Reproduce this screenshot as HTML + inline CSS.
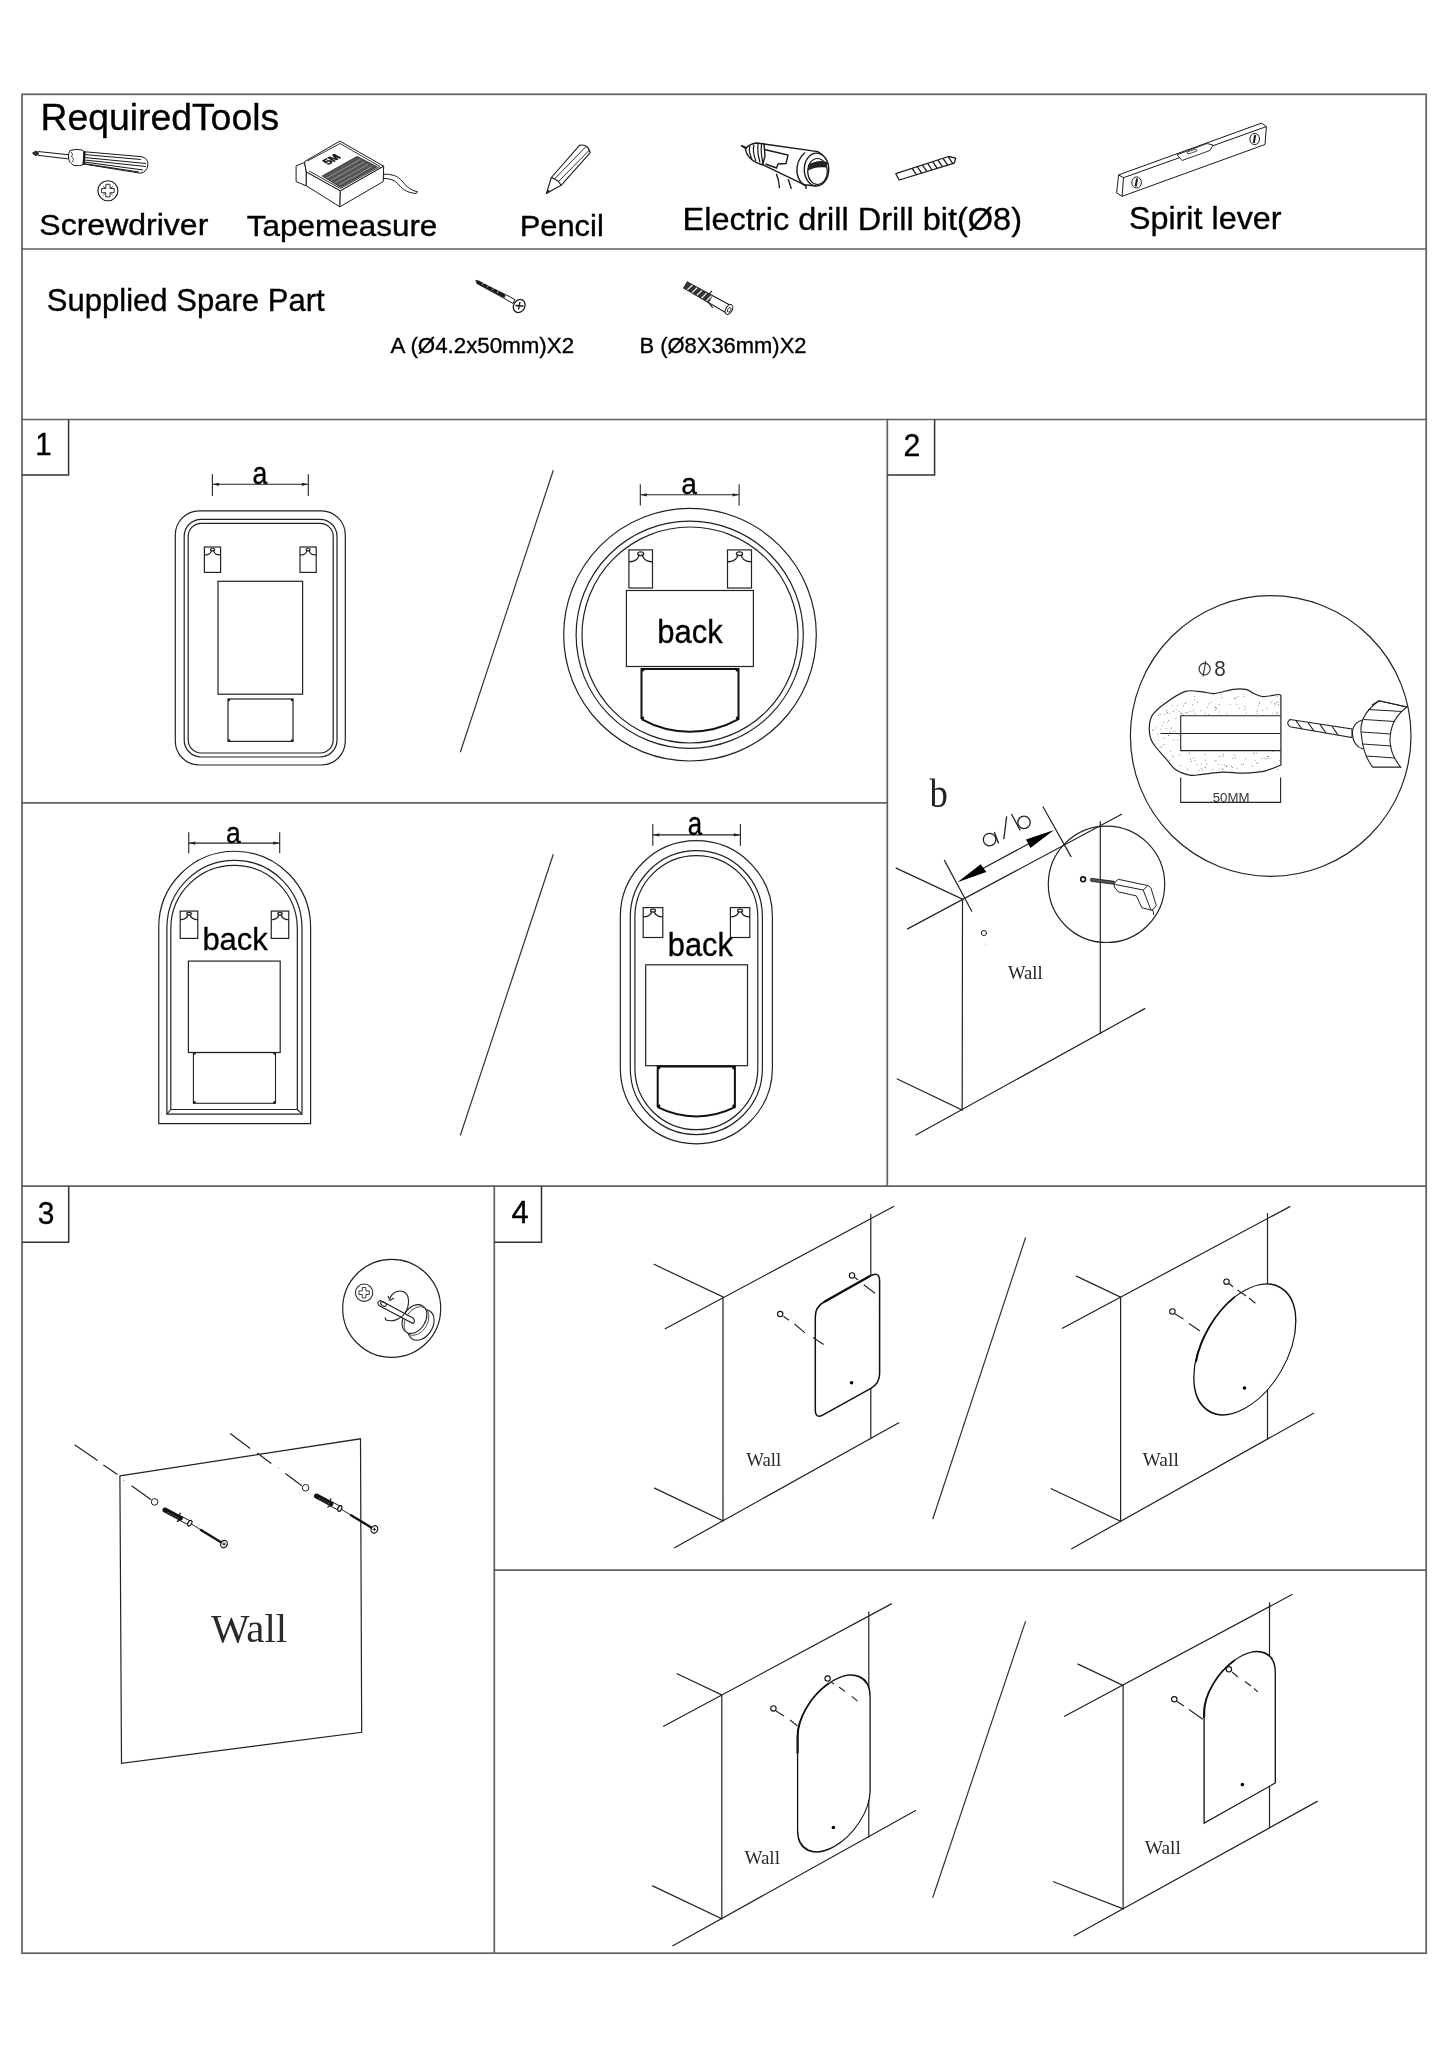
<!DOCTYPE html><html><head><meta charset="utf-8"><style>html,body{margin:0;padding:0;background:#fff;width:1448px;height:2048px;overflow:hidden}svg{display:block;will-change:transform}</style></head><body>
<svg width="1448" height="2048" viewBox="0 0 1448 2048">
<g stroke="#606060" stroke-width="1.7" fill="none" stroke-linecap="square">
<rect x="22" y="94.3" width="1404.2" height="1858.9"/>
<line x1="22" y1="249" x2="1426.2" y2="249" stroke="#606060" stroke-width="1.7" />
<line x1="22" y1="419.5" x2="1426.2" y2="419.5" stroke="#606060" stroke-width="1.7" />
<line x1="22" y1="802.8" x2="887.3" y2="802.8" stroke="#606060" stroke-width="1.7" />
<line x1="22" y1="1186.2" x2="1426.2" y2="1186.2" stroke="#606060" stroke-width="1.7" />
<line x1="494.3" y1="1570.1" x2="1426.2" y2="1570.1" stroke="#606060" stroke-width="1.7" />
<line x1="887.3" y1="419.5" x2="887.3" y2="1186.2" stroke="#606060" stroke-width="1.7" />
<line x1="494.3" y1="1186.2" x2="494.3" y2="1953.2" stroke="#606060" stroke-width="1.7" />
</g>
<g stroke="#333" stroke-width="1.5" fill="none">
<polyline points="22,475.1 68.6,475.1 68.6,419.5"/>
<polyline points="887.3,474.9 934.6,474.9 934.6,419.5"/>
<polyline points="22,1242.2 68.7,1242.2 68.7,1186.2"/>
<polyline points="494.3,1242.2 541.5,1242.2 541.5,1186.2"/>
</g>
<text x="40.44" y="129.5" font-family="Liberation Sans" font-size="37.79" fill="#000" textLength="238.69" lengthAdjust="spacingAndGlyphs" stroke="#000" stroke-width="0.35">RequiredTools</text>
<text x="39.33" y="234.6" font-family="Liberation Sans" font-size="30.09" fill="#000" textLength="169.01" lengthAdjust="spacingAndGlyphs" stroke="#000" stroke-width="0.35">Screwdriver</text>
<text x="246.81" y="236.4" font-family="Liberation Sans" font-size="29.36" fill="#000" textLength="190.58" lengthAdjust="spacingAndGlyphs" stroke="#000" stroke-width="0.35">Tapemeasure</text>
<text x="519.67" y="236" font-family="Liberation Sans" font-size="29.65" fill="#000" textLength="84.12" lengthAdjust="spacingAndGlyphs" stroke="#000" stroke-width="0.35">Pencil</text>
<text x="682.64" y="230.1" font-family="Liberation Sans" font-size="31.54" fill="#000" textLength="339.39" lengthAdjust="spacingAndGlyphs" stroke="#000" stroke-width="0.35">Electric drill Drill bit(Ø8)</text>
<text x="1128.91" y="228.8" font-family="Liberation Sans" font-size="32.12" fill="#000" textLength="152.62" lengthAdjust="spacingAndGlyphs" stroke="#000" stroke-width="0.35">Spirit lever</text>
<text x="46.77" y="311.4" font-family="Liberation Sans" font-size="31.1" fill="#000" textLength="277.85" lengthAdjust="spacingAndGlyphs" stroke="#000" stroke-width="0.35">Supplied Spare Part</text>
<text x="390.56" y="352.7" font-family="Liberation Sans" font-size="22.09" fill="#000" textLength="183.56" lengthAdjust="spacingAndGlyphs" stroke="#000" stroke-width="0.35">A (Ø4.2x50mm)X2</text>
<text x="639.5" y="352.7" font-family="Liberation Sans" font-size="22.09" fill="#000" textLength="167.0" lengthAdjust="spacingAndGlyphs" stroke="#000" stroke-width="0.35">B (Ø8X36mm)X2</text>
<text x="35.36" y="455.2" font-family="Liberation Sans" font-size="32.27" fill="#000" textLength="16.39" lengthAdjust="spacingAndGlyphs" stroke="#000" stroke-width="0.35">1</text>
<text x="903.39" y="456.3" font-family="Liberation Sans" font-size="31.69" fill="#000" textLength="16.83" lengthAdjust="spacingAndGlyphs" stroke="#000" stroke-width="0.35">2</text>
<text x="37.86" y="1223.9" font-family="Liberation Sans" font-size="32.12" fill="#000" textLength="16.66" lengthAdjust="spacingAndGlyphs" stroke="#000" stroke-width="0.35">3</text>
<text x="511.39" y="1222.8" font-family="Liberation Sans" font-size="31.54" fill="#000" textLength="17.21" lengthAdjust="spacingAndGlyphs" stroke="#000" stroke-width="0.35">4</text>
<g stroke="#222" stroke-width="1.1" fill="none">
<line x1="212.4" y1="474.2" x2="212.4" y2="496"/><line x1="308.3" y1="474.2" x2="308.3" y2="496"/><line x1="212.4" y1="484.3" x2="308.3" y2="484.3"/>
</g>
<path d="M212.9,484.3 l6,-1.6 v3.2 z M307.8,484.3 l-6,-1.6 v3.2 z" fill="#222"/>
<text x="252.38" y="483.8" font-family="Liberation Sans" font-size="32.01" fill="#000" textLength="14.82" lengthAdjust="spacingAndGlyphs" stroke="#000" stroke-width="0.35">a</text>
<rect x="175.3" y="510.9" width="170" height="254.1" rx="24" stroke="#222" stroke-width="1.2" fill="none"/>
<rect x="184.2" y="519.3" width="152.8" height="237.7" rx="17" stroke="#222" stroke-width="1.2" fill="none"/>
<rect x="188.2" y="523.3" width="145" height="229.7" rx="13" stroke="#222" stroke-width="1.2" fill="none"/>
<rect x="204.4" y="547" width="16.2" height="25.4" stroke="#222" stroke-width="1.2" fill="#fff"/>
<path d="M204.4,554.874 C209.26,555.374 211.204,552.08 211.528,550.048 M220.6,554.874 C215.74,555.374 213.796,552.08 213.472,550.048" stroke="#222" stroke-width="1.32" fill="none"/>
<ellipse cx="212.5" cy="549.54" rx="2.106" ry="1.27" stroke="#222" stroke-width="1.2" fill="none"/>
<rect x="300" y="547" width="16.2" height="25.4" stroke="#222" stroke-width="1.2" fill="#fff"/>
<path d="M300,554.874 C304.86,555.374 306.80400000000003,552.08 307.12800000000004,550.048 M316.2,554.874 C311.34,555.374 309.396,552.08 309.072,550.048" stroke="#222" stroke-width="1.32" fill="none"/>
<ellipse cx="308.1" cy="549.54" rx="2.106" ry="1.27" stroke="#222" stroke-width="1.2" fill="none"/>
<rect x="218" y="581.3" width="84.6" height="112.9" stroke="#222" stroke-width="1.2" fill="none"/>
<rect x="228" y="699" width="65" height="42.4" stroke="#222" stroke-width="1.2" fill="none"/>
<circle cx="229" cy="700" r="1.2" fill="#222"/>
<circle cx="292" cy="700" r="1.2" fill="#222"/>
<circle cx="229" cy="740.4" r="1.2" fill="#222"/>
<circle cx="292" cy="740.4" r="1.2" fill="#222"/>
<line x1="553.3" y1="470.3" x2="460.3" y2="752.3" stroke="#333" stroke-width="1.2" />
<g stroke="#222" stroke-width="1.1" fill="none">
<line x1="640.3" y1="484.2" x2="640.3" y2="505.4"/><line x1="739.1" y1="484.2" x2="739.1" y2="505.4"/><line x1="640.3" y1="494.8" x2="739.1" y2="494.8"/>
</g>
<path d="M640.8,494.8 l6,-1.6 v3.2 z M738.6,494.8 l-6,-1.6 v3.2 z" fill="#222"/>
<text x="681.32" y="494.4" font-family="Liberation Sans" font-size="30.3" fill="#000" textLength="15.69" lengthAdjust="spacingAndGlyphs" stroke="#000" stroke-width="0.35">a</text>
<circle cx="690" cy="634.7" r="126.3" stroke="#222" stroke-width="1.2" fill="none"/>
<circle cx="689.7" cy="634.8" r="113.6" stroke="#222" stroke-width="1.2" fill="none"/>
<circle cx="690" cy="635" r="108" stroke="#222" stroke-width="1.2" fill="none"/>
<rect x="628.9" y="549.9" width="23.6" height="38.1" stroke="#222" stroke-width="1.2" fill="#fff"/>
<path d="M628.9,561.711 C635.98,562.211 638.8119999999999,557.52 639.2839999999999,554.472 M652.5,561.711 C645.42,562.211 642.588,557.52 642.116,554.472" stroke="#222" stroke-width="1.32" fill="none"/>
<ellipse cx="640.6999999999999" cy="553.7099999999999" rx="3.0680000000000005" ry="1.9050000000000002" stroke="#222" stroke-width="1.2" fill="none"/>
<rect x="727.5" y="549.9" width="24" height="38.1" stroke="#222" stroke-width="1.2" fill="#fff"/>
<path d="M727.5,561.711 C734.7,562.211 737.58,557.52 738.06,554.472 M751.5,561.711 C744.3,562.211 741.42,557.52 740.94,554.472" stroke="#222" stroke-width="1.32" fill="none"/>
<ellipse cx="739.5" cy="553.7099999999999" rx="3.12" ry="1.9050000000000002" stroke="#222" stroke-width="1.2" fill="none"/>
<rect x="626.4" y="590.5" width="127" height="76" stroke="#222" stroke-width="1.2" fill="none"/>
<text x="657.29" y="642.7" font-family="Liberation Sans" font-size="33.24" fill="#000" textLength="65.39" lengthAdjust="spacingAndGlyphs" stroke="#000" stroke-width="0.35">back</text>
<path d="M641.5,719.1 V668.9 H738.5 V719.1 A99.6,99.6 0 0 1 641.5,719.1" stroke="#111" stroke-width="2" fill="none"/>
<g stroke="#222" stroke-width="1.1" fill="none">
<line x1="188.75" y1="832.2" x2="188.75" y2="853.3"/><line x1="279.7" y1="832.2" x2="279.7" y2="853.3"/><line x1="188.75" y1="843.1" x2="279.7" y2="843.1"/>
</g>
<path d="M189.25,843.1 l6,-1.6 v3.2 z M279.2,843.1 l-6,-1.6 v3.2 z" fill="#222"/>
<text x="225.89" y="842.8" font-family="Liberation Sans" font-size="30.3" fill="#000" textLength="14.72" lengthAdjust="spacingAndGlyphs" stroke="#000" stroke-width="0.35">a</text>
<path d="M158.75,1123.6 V927.175 A75.92500000000001,75.92500000000001 0 0 1 310.6,927.175 V1123.6 Z" stroke="#222" stroke-width="1.2" fill="none"/>
<path d="M166.9,1114.2 V927.8499999999999 A67.55,67.55 0 0 1 302,927.8499999999999 V1114.2 Z" stroke="#222" stroke-width="1.2" fill="none"/>
<path d="M170.8,1109.5 V928.55 A63.25,63.25 0 0 1 297.3,928.55 V1109.5 Z" stroke="#222" stroke-width="1.2" fill="none"/>
<line x1="166.9" y1="1114.2" x2="170.8" y2="1109.5" stroke="#222" stroke-width="1.1" />
<line x1="302" y1="1114.2" x2="297.3" y2="1109.5" stroke="#222" stroke-width="1.1" />
<rect x="180.2" y="911.1" width="17.6" height="27.3" stroke="#222" stroke-width="1.2" fill="#fff"/>
<path d="M180.2,919.563 C185.48,920.063 187.592,916.5600000000001 187.944,914.376 M197.79999999999998,919.563 C192.51999999999998,920.063 190.408,916.5600000000001 190.056,914.376" stroke="#222" stroke-width="1.32" fill="none"/>
<ellipse cx="189.0" cy="913.83" rx="2.2880000000000003" ry="1.3650000000000002" stroke="#222" stroke-width="1.2" fill="none"/>
<rect x="271.25" y="911.1" width="17.5" height="27.3" stroke="#222" stroke-width="1.2" fill="#fff"/>
<path d="M271.25,919.563 C276.5,920.063 278.6,916.5600000000001 278.95,914.376 M288.75,919.563 C283.5,920.063 281.4,916.5600000000001 281.05,914.376" stroke="#222" stroke-width="1.32" fill="none"/>
<ellipse cx="280.0" cy="913.83" rx="2.275" ry="1.3650000000000002" stroke="#222" stroke-width="1.2" fill="none"/>
<text x="202.39" y="949.7" font-family="Liberation Sans" font-size="31.72" fill="#000" textLength="65.29" lengthAdjust="spacingAndGlyphs" stroke="#000" stroke-width="0.35">back</text>
<rect x="188.4" y="961.1" width="91.8" height="91.4" stroke="#222" stroke-width="1.2" fill="none"/>
<rect x="193.4" y="1052.5" width="82.1" height="50.8" stroke="#222" stroke-width="1.1" fill="none"/>
<circle cx="194.5" cy="1053.5" r="1.2" fill="#222"/>
<circle cx="274.5" cy="1053.5" r="1.2" fill="#222"/>
<circle cx="194.5" cy="1102.3" r="1.2" fill="#222"/>
<circle cx="274.5" cy="1102.3" r="1.2" fill="#222"/>
<line x1="553.3" y1="854.2" x2="460.3" y2="1135.5" stroke="#333" stroke-width="1.2" />
<g stroke="#222" stroke-width="1.1" fill="none">
<line x1="652.8" y1="824.1" x2="652.8" y2="845.7"/><line x1="740.4" y1="824.1" x2="740.4" y2="845.7"/><line x1="652.8" y1="834.9" x2="740.4" y2="834.9"/>
</g>
<path d="M653.3,834.9 l6,-1.6 v3.2 z M739.9,834.9 l-6,-1.6 v3.2 z" fill="#222"/>
<text x="687.81" y="834.9" font-family="Liberation Sans" font-size="32.95" fill="#000" textLength="14.39" lengthAdjust="spacingAndGlyphs" stroke="#000" stroke-width="0.35">a</text>
<path d="M620.3,916.75 A76.05000000000001,76.05000000000001 0 0 1 772.4,916.75 V1067.75 A76.05000000000001,76.05000000000001 0 0 1 620.3,1067.75 Z" stroke="#222" stroke-width="1.2" fill="none"/>
<path d="M630.3,916.75 A66.05000000000001,66.05000000000001 0 0 1 762.4,916.75 V1068.55 A66.05000000000001,66.05000000000001 0 0 1 630.3,1068.55 Z" stroke="#222" stroke-width="1.2" fill="none"/>
<path d="M634.9,917.1500000000001 A61.44999999999999,61.44999999999999 0 0 1 757.8,917.1500000000001 V1068.25 A61.44999999999999,61.44999999999999 0 0 1 634.9,1068.25 Z" stroke="#222" stroke-width="1.2" fill="none"/>
<rect x="643.2" y="907.6" width="19.6" height="29.9" stroke="#222" stroke-width="1.2" fill="#fff"/>
<path d="M643.2,916.869 C649.08,917.369 651.432,913.58 651.824,911.188 M662.8000000000001,916.869 C656.9200000000001,917.369 654.568,913.58 654.176,911.188" stroke="#222" stroke-width="1.32" fill="none"/>
<ellipse cx="653.0" cy="910.59" rx="2.5480000000000005" ry="1.495" stroke="#222" stroke-width="1.2" fill="none"/>
<rect x="730.4" y="907.6" width="19.4" height="29.9" stroke="#222" stroke-width="1.2" fill="#fff"/>
<path d="M730.4,916.869 C736.22,917.369 738.548,913.58 738.936,911.188 M749.8,916.869 C743.98,917.369 741.652,913.58 741.264,911.188" stroke="#222" stroke-width="1.32" fill="none"/>
<ellipse cx="740.1" cy="910.59" rx="2.522" ry="1.495" stroke="#222" stroke-width="1.2" fill="none"/>
<text x="667.8" y="955.8" font-family="Liberation Sans" font-size="32.83" fill="#000" textLength="65.08" lengthAdjust="spacingAndGlyphs" stroke="#000" stroke-width="0.35">back</text>
<rect x="645.7" y="964.8" width="101.8" height="100.9" stroke="#222" stroke-width="1.2" fill="none"/>
<path d="M657.7,1107.2 V1066.6 H734.9 V1107.2 A85.6,85.6 0 0 1 657.7,1107.2" stroke="#111" stroke-width="2" fill="none"/>
<g stroke="#222" stroke-width="1.2" fill="none" stroke-linecap="round">
<polyline points="896.2,868.1 962.5,899.2 962.2,1110.1 897.3,1079"/>
<line x1="907.6" y1="928.9" x2="1121.6" y2="814.3"/>
<line x1="915.9" y1="1135" x2="1144.8" y2="1008.6"/>
<line x1="1100.3" y1="821.7" x2="1100.3" y2="1033.5"/>
<line x1="944.4" y1="860.4" x2="971.8" y2="911.2"/>
<line x1="1043" y1="806.8" x2="1071" y2="856.6"/>
<line x1="980" y1="870" x2="1030" y2="843"/>
<circle cx="1106.5" cy="884.3" r="58.2"/>
<circle cx="1270.7" cy="736" r="140.3"/>
<circle cx="983.9" cy="933" r="2.6" stroke-width="1"/>
</g>
<path d="M957.4,882.2 L980.6,864.3 L986.4,872 Z M1054.1,830 L1026,839.6 L1030.4,847.9 Z" fill="#000"/>
<circle cx="985.7" cy="944" r="0.6" fill="#999"/>
<g stroke="#222" stroke-width="1.3" fill="none"><circle cx="989.6" cy="839.6" r="6.3"/><path d="M994.3,832 L998.6,843.5"/><path d="M1006.7,816.4 L1003.8,839.2"/><path d="M1011.5,814 L1020.2,830.5"/><circle cx="1024" cy="822.4" r="6.2"/></g>
<text x="929.4" y="807.2" font-family="Liberation Serif" font-size="39.63" fill="#222" textLength="18.4" lengthAdjust="spacingAndGlyphs" >b</text>
<text x="1008.08" y="979.2" font-family="Liberation Serif" font-size="19.85" fill="#222" textLength="34.59" lengthAdjust="spacingAndGlyphs" >Wall</text>
<circle cx="1083.1" cy="879.3" r="2.4" stroke="#111" stroke-width="1.6" fill="none"/>
<path d="M1091,878.3 L1114.2,881.3 L1114.2,884.3 L1091,881.3 Q1089.5,879.8 1091,878.3 Z" fill="#555" stroke="#111" stroke-width="0.8"/>
<path d="M1114.9,882.1 L1118.3,879.3 L1148,885.6 L1150.8,887.6 L1156.3,905.6 L1152.2,910.4 L1141.8,907.7 L1136.3,895.9 L1118.3,891.8 L1114.2,886.9 Z M1115.6,884.5 L1143.2,890 L1147.3,886.2 M1143.2,890 L1150.8,909.7 M1152,909 Q1154,912 1153.6,915.2" stroke="#222" stroke-width="1" fill="#fff"/>
<path d="M1280.9,695.5 C1280.4,695.3 1280.7,694.3 1277.8,694.5 C1274.9,694.7 1267.3,696.8 1263.3,696.6 C1259.3,696.4 1256.9,694.7 1254.0,693.5 C1251.1,692.3 1249.2,690.0 1245.7,689.3 C1242.2,688.6 1238.4,688.6 1233.2,689.3 C1228.0,690.0 1219.8,693.1 1214.6,693.5 C1209.4,693.9 1207.0,692.2 1202.2,691.9 C1197.4,691.5 1191.6,689.6 1185.6,691.4 C1179.5,693.2 1171.4,698.8 1165.9,702.8 C1160.4,706.8 1155.2,710.9 1152.4,715.2 C1149.6,719.5 1149.3,724.2 1149.3,728.7 C1149.3,733.2 1149.6,737.2 1152.4,742.2 C1155.2,747.2 1161.9,754.1 1165.9,758.7 C1169.9,763.4 1172.2,767.3 1176.3,770.1 C1180.4,772.9 1186.5,774.6 1190.8,775.3 C1195.1,776.0 1196.8,774.8 1202.2,774.3 C1207.6,773.8 1216.0,772.4 1222.9,772.2 C1229.8,772.0 1236.7,773.4 1243.6,773.2 C1250.5,773.0 1258.1,772.6 1264.3,771.2 C1270.5,769.8 1278.1,766.0 1280.9,765.0 Z" stroke="#222" stroke-width="1.2" fill="#fff"/>
<g fill="#777"><rect x="1192.1" y="704.4" width="0.9" height="0.9"/><rect x="1234.6" y="697.9" width="0.9" height="0.9"/><rect x="1157.5" y="733.6" width="0.9" height="0.9"/><rect x="1154.9" y="727.6" width="0.9" height="0.9"/><rect x="1205.2" y="759.8" width="0.9" height="0.9"/><rect x="1166.1" y="710.3" width="0.9" height="0.9"/><rect x="1231.6" y="769.7" width="0.9" height="0.9"/><rect x="1276.9" y="695.8" width="0.9" height="0.9"/><rect x="1190.1" y="758.9" width="0.9" height="0.9"/><rect x="1173.5" y="739.7" width="0.9" height="0.9"/><rect x="1221.2" y="697.1" width="0.9" height="0.9"/><rect x="1218.3" y="763.8" width="0.9" height="0.9"/><rect x="1277.4" y="701.7" width="0.9" height="0.9"/><rect x="1204.4" y="754.1" width="0.9" height="0.9"/><rect x="1169.8" y="732.1" width="0.9" height="0.9"/><rect x="1155.1" y="746.8" width="0.9" height="0.9"/><rect x="1259.2" y="769.5" width="0.9" height="0.9"/><rect x="1157.9" y="749.5" width="0.9" height="0.9"/><rect x="1152.9" y="729.9" width="0.9" height="0.9"/><rect x="1166.8" y="712.3" width="0.9" height="0.9"/><rect x="1200.8" y="763.5" width="0.9" height="0.9"/><rect x="1160.5" y="728.8" width="0.9" height="0.9"/><rect x="1221.4" y="764.4" width="0.9" height="0.9"/><rect x="1256.5" y="762.8" width="0.9" height="0.9"/><rect x="1196.6" y="764.5" width="0.9" height="0.9"/><rect x="1274.5" y="704.4" width="0.9" height="0.9"/><rect x="1172.9" y="711.0" width="0.9" height="0.9"/><rect x="1226.6" y="713.5" width="0.9" height="0.9"/><rect x="1237.9" y="696.4" width="0.9" height="0.9"/><rect x="1266.9" y="756.0" width="0.9" height="0.9"/><rect x="1263.7" y="757.4" width="0.9" height="0.9"/><rect x="1163.5" y="744.0" width="0.9" height="0.9"/><rect x="1177.1" y="705.3" width="0.9" height="0.9"/><rect x="1194.2" y="696.3" width="0.9" height="0.9"/><rect x="1163.2" y="721.8" width="0.9" height="0.9"/><rect x="1229.8" y="704.2" width="0.9" height="0.9"/><rect x="1197.3" y="702.1" width="0.9" height="0.9"/><rect x="1194.5" y="713.7" width="0.9" height="0.9"/><rect x="1257.8" y="705.2" width="0.9" height="0.9"/><rect x="1218.7" y="704.0" width="0.9" height="0.9"/><rect x="1220.6" y="694.2" width="0.9" height="0.9"/><rect x="1171.7" y="755.3" width="0.9" height="0.9"/><rect x="1219.2" y="755.9" width="0.9" height="0.9"/><rect x="1192.9" y="710.3" width="0.9" height="0.9"/><rect x="1260.8" y="758.1" width="0.9" height="0.9"/><rect x="1256.4" y="752.7" width="0.9" height="0.9"/><rect x="1179.5" y="734.4" width="0.9" height="0.9"/><rect x="1178.7" y="710.6" width="0.9" height="0.9"/><rect x="1175.6" y="708.8" width="0.9" height="0.9"/><rect x="1231.1" y="765.8" width="0.9" height="0.9"/><rect x="1234.9" y="757.6" width="0.9" height="0.9"/><rect x="1161.0" y="746.2" width="0.9" height="0.9"/><rect x="1268.3" y="756.1" width="0.9" height="0.9"/><rect x="1173.2" y="756.7" width="0.9" height="0.9"/><rect x="1193.2" y="757.7" width="0.9" height="0.9"/><rect x="1202.2" y="769.6" width="0.9" height="0.9"/><rect x="1244.2" y="705.9" width="0.9" height="0.9"/><rect x="1267.6" y="758.1" width="0.9" height="0.9"/><rect x="1169.0" y="759.8" width="0.9" height="0.9"/><rect x="1218.5" y="768.6" width="0.9" height="0.9"/><rect x="1206.4" y="763.5" width="0.9" height="0.9"/><rect x="1257.4" y="709.3" width="0.9" height="0.9"/><rect x="1225.8" y="766.2" width="0.9" height="0.9"/><rect x="1204.7" y="767.3" width="0.9" height="0.9"/><rect x="1207.2" y="707.0" width="0.9" height="0.9"/><rect x="1172.4" y="730.8" width="0.9" height="0.9"/><rect x="1222.2" y="756.3" width="0.9" height="0.9"/><rect x="1163.8" y="737.9" width="0.9" height="0.9"/><rect x="1182.3" y="714.7" width="0.9" height="0.9"/><rect x="1223.0" y="754.3" width="0.9" height="0.9"/><rect x="1212.1" y="769.2" width="0.9" height="0.9"/><rect x="1240.9" y="763.9" width="0.9" height="0.9"/><rect x="1272.5" y="713.3" width="0.9" height="0.9"/><rect x="1222.7" y="769.3" width="0.9" height="0.9"/><rect x="1259.2" y="703.2" width="0.9" height="0.9"/><rect x="1165.8" y="728.3" width="0.9" height="0.9"/><rect x="1159.5" y="746.9" width="0.9" height="0.9"/><rect x="1251.9" y="765.6" width="0.9" height="0.9"/><rect x="1170.1" y="750.7" width="0.9" height="0.9"/><rect x="1235.8" y="703.7" width="0.9" height="0.9"/><rect x="1264.8" y="771.3" width="0.9" height="0.9"/><rect x="1278.7" y="760.3" width="0.9" height="0.9"/><rect x="1171.0" y="727.4" width="0.9" height="0.9"/><rect x="1175.4" y="718.1" width="0.9" height="0.9"/><rect x="1252.5" y="771.7" width="0.9" height="0.9"/><rect x="1163.6" y="713.8" width="0.9" height="0.9"/><rect x="1185.2" y="702.6" width="0.9" height="0.9"/><rect x="1204.9" y="766.7" width="0.9" height="0.9"/><rect x="1256.5" y="713.2" width="0.9" height="0.9"/><rect x="1232.5" y="757.7" width="0.9" height="0.9"/><rect x="1221.9" y="768.0" width="0.9" height="0.9"/><rect x="1184.8" y="702.6" width="0.9" height="0.9"/><rect x="1218.5" y="711.6" width="0.9" height="0.9"/><rect x="1215.0" y="706.6" width="0.9" height="0.9"/><rect x="1174.6" y="730.9" width="0.9" height="0.9"/><rect x="1271.5" y="700.7" width="0.9" height="0.9"/><rect x="1214.4" y="760.4" width="0.9" height="0.9"/><rect x="1194.6" y="760.2" width="0.9" height="0.9"/><rect x="1183.2" y="705.4" width="0.9" height="0.9"/><rect x="1186.7" y="711.9" width="0.9" height="0.9"/><rect x="1170.5" y="728.6" width="0.9" height="0.9"/><rect x="1176.1" y="733.4" width="0.9" height="0.9"/><rect x="1161.7" y="724.8" width="0.9" height="0.9"/><rect x="1189.6" y="711.1" width="0.9" height="0.9"/><rect x="1243.1" y="764.1" width="0.9" height="0.9"/><rect x="1278.0" y="704.3" width="0.9" height="0.9"/><rect x="1245.4" y="758.6" width="0.9" height="0.9"/><rect x="1168.1" y="734.9" width="0.9" height="0.9"/><rect x="1215.6" y="760.5" width="0.9" height="0.9"/><rect x="1254.6" y="759.8" width="0.9" height="0.9"/><rect x="1225.9" y="765.2" width="0.9" height="0.9"/><rect x="1167.3" y="721.6" width="0.9" height="0.9"/><rect x="1253.7" y="753.4" width="0.9" height="0.9"/><rect x="1235.7" y="697.4" width="0.9" height="0.9"/><rect x="1245.8" y="712.7" width="0.9" height="0.9"/><rect x="1159.7" y="713.8" width="0.9" height="0.9"/><rect x="1244.8" y="708.8" width="0.9" height="0.9"/><rect x="1233.6" y="698.4" width="0.9" height="0.9"/><rect x="1169.2" y="712.8" width="0.9" height="0.9"/><rect x="1210.6" y="701.7" width="0.9" height="0.9"/><rect x="1266.2" y="708.3" width="0.9" height="0.9"/><rect x="1277.2" y="768.8" width="0.9" height="0.9"/><rect x="1152.3" y="729.6" width="0.9" height="0.9"/><rect x="1256.6" y="771.4" width="0.9" height="0.9"/><rect x="1208.4" y="714.0" width="0.9" height="0.9"/><rect x="1177.4" y="739.7" width="0.9" height="0.9"/><rect x="1168.4" y="735.0" width="0.9" height="0.9"/><rect x="1273.9" y="702.9" width="0.9" height="0.9"/><rect x="1180.1" y="765.6" width="0.9" height="0.9"/><rect x="1213.2" y="694.0" width="0.9" height="0.9"/><rect x="1168.3" y="720.2" width="0.9" height="0.9"/><rect x="1191.1" y="760.9" width="0.9" height="0.9"/><rect x="1259.1" y="701.8" width="0.9" height="0.9"/><rect x="1187.1" y="768.7" width="0.9" height="0.9"/><rect x="1182.4" y="713.8" width="0.9" height="0.9"/><rect x="1216.4" y="707.6" width="0.9" height="0.9"/><rect x="1198.5" y="770.4" width="0.9" height="0.9"/><rect x="1265.0" y="758.6" width="0.9" height="0.9"/><rect x="1232.0" y="766.9" width="0.9" height="0.9"/><rect x="1243.5" y="696.1" width="0.9" height="0.9"/><rect x="1270.5" y="702.4" width="0.9" height="0.9"/><rect x="1188.7" y="752.6" width="0.9" height="0.9"/><rect x="1276.9" y="713.3" width="0.9" height="0.9"/><rect x="1171.8" y="705.3" width="0.9" height="0.9"/><rect x="1214.6" y="710.0" width="0.9" height="0.9"/><rect x="1208.5" y="703.4" width="0.9" height="0.9"/><rect x="1194.5" y="699.5" width="0.9" height="0.9"/><rect x="1181.1" y="713.2" width="0.9" height="0.9"/><rect x="1224.1" y="764.8" width="0.9" height="0.9"/><rect x="1158.1" y="714.8" width="0.9" height="0.9"/><rect x="1275.8" y="702.3" width="0.9" height="0.9"/><rect x="1262.2" y="709.7" width="0.9" height="0.9"/><rect x="1185.2" y="712.4" width="0.9" height="0.9"/><rect x="1274.0" y="761.6" width="0.9" height="0.9"/><rect x="1200.9" y="768.0" width="0.9" height="0.9"/><rect x="1257.3" y="762.1" width="0.9" height="0.9"/><rect x="1276.4" y="712.4" width="0.9" height="0.9"/><rect x="1272.4" y="751.2" width="0.9" height="0.9"/><rect x="1234.2" y="754.7" width="0.9" height="0.9"/><rect x="1166.6" y="712.6" width="0.9" height="0.9"/><rect x="1200.5" y="710.3" width="0.9" height="0.9"/><rect x="1180.5" y="712.3" width="0.9" height="0.9"/><rect x="1204.6" y="713.1" width="0.9" height="0.9"/><rect x="1236.8" y="767.9" width="0.9" height="0.9"/><rect x="1238.7" y="708.2" width="0.9" height="0.9"/><rect x="1253.6" y="752.6" width="0.9" height="0.9"/><rect x="1215.6" y="708.8" width="0.9" height="0.9"/><rect x="1256.6" y="710.9" width="0.9" height="0.9"/><rect x="1178.8" y="754.4" width="0.9" height="0.9"/><rect x="1214.4" y="707.4" width="0.9" height="0.9"/></g>
<path d="M1280.6,715.8 H1180.7 V750.6 H1280.6 M1160.4,733.5 H1280.6" stroke="#222" stroke-width="1.1" fill="none"/>
<path d="M1180.7,777.5 V802.4 H1280.6 V777.5" stroke="#222" stroke-width="1.1" fill="none"/>
<text x="1212.67" y="802.4" font-family="Liberation Sans" font-size="13.66" fill="#333" textLength="36.82" lengthAdjust="spacingAndGlyphs" >50MM</text>
<g stroke="#333" stroke-width="1.2" fill="none"><ellipse cx="1204.6" cy="669" rx="5.5" ry="5.8"/><path d="M1205.8,661 L1203,676.5"/></g>
<text x="1214.31" y="675.7" font-family="Liberation Sans" font-size="21.37" fill="#333" textLength="11.48" lengthAdjust="spacingAndGlyphs" >8</text>
<path d="M1289.9,719.5 L1352,729 L1352,737.5 L1289.9,726.7 Q1285.5,723 1289.9,719.5 Z" stroke="#222" stroke-width="1.1" fill="#fff"/>
<g stroke="#222" stroke-width="1.1"><line x1="1296" y1="720.6" x2="1302" y2="729.2"/><line x1="1308" y1="722.5" x2="1314" y2="731.1"/><line x1="1320" y1="724.4" x2="1326" y2="733.0"/><line x1="1332" y1="726.3000000000001" x2="1338" y2="734.9000000000001"/></g>
<path d="M1364.5,719.5 Q1352,722 1352.5,734 Q1353,746 1363,749" stroke="#222" stroke-width="1.1" fill="none"/>
<path d="M1379,700.8 Q1358,716 1361.4,735 Q1363,755 1372.7,767.1 L1400.7,767.1 Q1388,752 1390.4,735 Q1392,718 1406.9,707 Z" stroke="#222" stroke-width="1.1" fill="#fff"/>
<path d="M1379,700.8 L1406.9,707 M1379.5,700.5 L1372,705" stroke="#222" stroke-width="1.1" fill="none"/>
<g stroke="#222" stroke-width="1"><line x1="1368" y1="709.5" x2="1402" y2="711.5"/><line x1="1364" y1="719.5" x2="1395" y2="721.5"/><line x1="1361.5" y1="732" x2="1391" y2="734"/><line x1="1362.5" y1="744" x2="1391.5" y2="746"/><line x1="1366" y1="756" x2="1395" y2="758"/></g>
<g stroke="#222" stroke-width="1.2" fill="none">
<polygon points="119.9,1475.9 360.5,1438.8 361.7,1732.3 121.5,1763.3"/>
<path d="M74.6,1444.7 L97.6,1460.4 M103.4,1465.1 L117.5,1474.5 M131.6,1485.7 L151.1,1499.8"/>
<path d="M230.2,1433.6 L250.2,1448.6 M257.2,1452.9 L271.3,1463.4 M285.4,1473.5 L301.8,1485.7"/>
<circle cx="154.6" cy="1501.9" r="3.3" stroke-width="1"/>
<circle cx="305.6" cy="1487.8" r="3.3" stroke-width="1"/>
</g>
<circle cx="123.9" cy="1480.6" r="0.6" fill="#888"/><circle cx="278.4" cy="1468.1" r="0.6" fill="#888"/>
<polygon points="179.3,1520.1 188.8,1525.1 190.8,1521.3 181.4,1516.2" fill="#fff" stroke="#111" stroke-width="1"/>
<line x1="165.0" y1="1510.0" x2="180.4" y2="1518.2" stroke="#111" stroke-width="5" stroke-linecap="round"/>
<path d="M167.2,1513.0 L168.9,1512.3 M169.7,1514.3 L171.4,1513.6 M172.2,1515.6 L173.9,1515.0 M174.7,1517.0 L176.4,1516.3 M177.1,1518.3 L178.9,1517.6 " stroke="#888" stroke-width="0.7"/>
<path d="M179.2,1520.4 l-2.4,1.2 M179.3,1515.9 l1.1,-3.1" stroke="#111" stroke-width="1.2"/>
<ellipse cx="189.8" cy="1523.2" rx="1.8" ry="3" transform="rotate(28.0 189.8 1523.2)" fill="#fff" stroke="#111" stroke-width="1.2"/>
<line x1="191.6" y1="1524.1" x2="224.0" y2="1544.1" stroke="#111" stroke-width="0.9"/>
<line x1="200.1" y1="1529.5" x2="216.5" y2="1539.5" stroke="#111" stroke-width="2.4"/>
<line x1="216.5" y1="1539.5" x2="221.3" y2="1542.4" stroke="#111" stroke-width="2.4" stroke-dasharray="0.1 0" />
<ellipse cx="224.0" cy="1544.1" rx="3.2" ry="3.8" transform="rotate(28.0 224.0 1544.1)" fill="#fff" stroke="#111" stroke-width="1.2"/>
<path d="M222.2,1544.1 H225.8 M224,1542.3 V1545.8999999999999" stroke="#111" stroke-width="0.9"/>
<polygon points="329.9,1505.7 338.8,1510.4 340.8,1506.6 332.0,1501.8" fill="#fff" stroke="#111" stroke-width="1"/>
<line x1="316.5" y1="1496.0" x2="330.9" y2="1503.8" stroke="#111" stroke-width="5" stroke-linecap="round"/>
<path d="M318.5,1498.9 L320.3,1498.2 M320.9,1500.2 L322.6,1499.5 M323.2,1501.4 L324.9,1500.7 M325.5,1502.7 L327.2,1502.0 M327.9,1503.9 L329.6,1503.2 " stroke="#888" stroke-width="0.7"/>
<path d="M329.8,1506.0 l-2.4,1.2 M329.9,1501.5 l1.1,-3.1" stroke="#111" stroke-width="1.2"/>
<ellipse cx="339.8" cy="1508.5" rx="1.8" ry="3" transform="rotate(28.2 339.8 1508.5)" fill="#fff" stroke="#111" stroke-width="1.2"/>
<line x1="341.6" y1="1509.4" x2="374.4" y2="1529.4" stroke="#111" stroke-width="0.9"/>
<line x1="350.2" y1="1514.8" x2="366.8" y2="1524.8" stroke="#111" stroke-width="2.4"/>
<line x1="366.8" y1="1524.8" x2="371.6" y2="1527.7" stroke="#111" stroke-width="2.4" stroke-dasharray="0.1 0" />
<ellipse cx="374.4" cy="1529.4" rx="3.2" ry="3.8" transform="rotate(28.2 374.4 1529.4)" fill="#fff" stroke="#111" stroke-width="1.2"/>
<path d="M372.59999999999997,1529.4 H376.2 M374.4,1527.6000000000001 V1531.2" stroke="#111" stroke-width="0.9"/>
<text x="210.96" y="1641.8" font-family="Liberation Serif" font-size="40.15" fill="#2a2a2a" textLength="76.17" lengthAdjust="spacingAndGlyphs" >Wall</text>
<circle cx="391.7" cy="1308.4" r="49" stroke="#222" stroke-width="1.2" fill="none"/>
<circle cx="364.1" cy="1292.7" r="8.7" stroke="#222" stroke-width="1.1" fill="none"/>
<path d="M362.3,1287.5 h3.6 v3.4 h3.4 v3.6 h-3.4 v3.4 h-3.6 v-3.4 h-3.4 v-3.6 h3.4 z" stroke="#222" stroke-width="0.9" fill="none"/>
<ellipse cx="421" cy="1325" rx="11.5" ry="16.5" transform="rotate(32 421 1325)" stroke="#222" stroke-width="1.1" fill="#fff"/>
<ellipse cx="414.5" cy="1319" rx="11" ry="15.5" transform="rotate(32 414.5 1319)" stroke="#222" stroke-width="1.1" fill="#fff"/>
<ellipse cx="416.5" cy="1321" rx="11" ry="15.5" transform="rotate(32 416.5 1321)" stroke="#222" stroke-width="0.7" fill="none"/>
<path d="M380.5,1300.5 L413,1318 Q416,1321 413,1323.5 L379,1305.5 Q376,1302 380.5,1300.5 Z" stroke="#222" stroke-width="1.1" fill="#fff"/>
<ellipse cx="383.5" cy="1304" rx="3.2" ry="1.8" transform="rotate(30 383.5 1304)" stroke="#222" stroke-width="1" fill="none"/>
<path d="M390,1298.5 C392,1292 399,1290 403,1291.5 C410,1294 410,1305 405,1313 C400,1320 392,1322 386,1320 L385,1317.5" stroke="#222" stroke-width="1.1" fill="none"/>
<path d="M388,1296 L390,1300.5 L394,1298" stroke="#222" stroke-width="1.1" fill="none"/>
<g stroke="#222" stroke-width="1.2" fill="none" stroke-linecap="round">
<polyline points="654,1264.3 723,1297 723,1520.7 654.5,1488.1"/>
<line x1="665.2" y1="1328.7" x2="893.6" y2="1206.5"/>
<line x1="674.5" y1="1547.8" x2="898.8" y2="1422.8"/>
<line x1="870.8" y1="1214" x2="870.8" y2="1438.7"/>
</g>
<path d="M815.3,1316.8 Q815.3,1306.8 824,1302 L870,1276 Q879.6,1270.9 879.6,1280.9 L879.6,1373.6 Q879.6,1383.6 870.9,1388.4 L824,1414.4 Q815.3,1419.6 815.3,1409.6 Z" stroke="#111" stroke-width="1.5" fill="#fff"/>
<path d="M824,1302 L870,1276" stroke="#111" stroke-width="2.2"/>
<circle cx="851.6" cy="1382.7" r="1.8" fill="#000"/>
<circle cx="780.2" cy="1314.1" r="2.7" stroke="#111" stroke-width="1.1" fill="#fff"/>
<circle cx="852" cy="1275.5" r="2.7" stroke="#111" stroke-width="1.1" fill="#fff"/>
<path d="M783.5,1316.5 L789,1320.3 M794.5,1324 L805,1332.8 M813,1337.5 L823.7,1344.5" stroke="#222" stroke-width="1.1" fill="none"/>
<path d="M855,1277.5 L858,1280 M863.8,1284.8 L875,1293.2" stroke="#222" stroke-width="1.1" fill="none"/>
<text x="746.28" y="1465.7" font-family="Liberation Serif" font-size="19.85" fill="#2a2a2a" textLength="34.9" lengthAdjust="spacingAndGlyphs" >Wall</text>
<line x1="1025.6" y1="1237.5" x2="932.7" y2="1519.2" stroke="#333" stroke-width="1.2" />
<g stroke="#222" stroke-width="1.2" fill="none" stroke-linecap="round">
<polyline points="1076.4,1276.1 1120.6,1297.2 1120.6,1521.3 1051.2,1488.7"/>
<line x1="1062.4" y1="1328.3" x2="1289.9" y2="1206.6"/>
<line x1="1071.7" y1="1548.7" x2="1313.7" y2="1413.2"/>
<line x1="1267.5" y1="1213.6" x2="1267.5" y2="1439.3"/>
</g>
<ellipse cx="0" cy="0" rx="51" ry="59" transform="translate(1244.8,1349.4) matrix(1,-0.55,0,1,0,0)" stroke="#111" stroke-width="1.3" fill="#fff"/>
<path d="M-49,-14 A51,59 0 0 1 -10,-58" transform="translate(1244.8,1349.4) matrix(1,-0.55,0,1,0,0)" stroke="#111" stroke-width="2.2" fill="none"/>
<circle cx="1244.5" cy="1388" r="1.8" fill="#000"/>
<circle cx="1172.4" cy="1311.5" r="2.7" stroke="#111" stroke-width="1.1" fill="#fff"/>
<circle cx="1226.5" cy="1281.7" r="2.7" stroke="#111" stroke-width="1.1" fill="#fff"/>
<path d="M1175,1314 L1183.5,1319 M1189,1323.5 L1200,1331" stroke="#222" stroke-width="1.1" fill="none"/>
<path d="M1229,1283.5 L1233,1287 M1237.5,1290 L1246,1296 M1249,1298 L1255.4,1303.2" stroke="#222" stroke-width="1.1" fill="none"/>
<text x="1142.58" y="1466.3" font-family="Liberation Serif" font-size="19.08" fill="#2a2a2a" textLength="36.21" lengthAdjust="spacingAndGlyphs" >Wall</text>
<g stroke="#222" stroke-width="1.2" fill="none" stroke-linecap="round">
<polyline points="677.1,1673.7 721.8,1695 721.8,1918.8 652.6,1885.9"/>
<line x1="663.6" y1="1726.3" x2="891.4" y2="1603.9"/>
<line x1="672.9" y1="1945.8" x2="915.6" y2="1810.5"/>
<line x1="868.8" y1="1612.2" x2="868.8" y2="1837.1"/>
</g>
<path d="M-36.25,-47 A36.25,36.25 0 0 1 36.25,-47 V47 A36.25,36.25 0 0 1 -36.25,47 Z" transform="translate(833.85,1763.5) matrix(1,-0.55,0,1,0,0)" stroke="#111" stroke-width="1.3" fill="#fff"/>
<path d="M-36.25,-30 V-47 A36.25,36.25 0 0 1 -5,-83" transform="translate(833.85,1763.5) matrix(1,-0.55,0,1,0,0)" stroke="#111" stroke-width="2.2" fill="none"/>
<circle cx="833.4" cy="1827.5" r="1.8" fill="#000"/>
<circle cx="773.4" cy="1708.4" r="2.7" stroke="#111" stroke-width="1.1" fill="#fff"/>
<circle cx="827.6" cy="1678.6" r="2.7" stroke="#111" stroke-width="1.1" fill="#fff"/>
<path d="M776,1711 L784,1716 M790,1720 L797.5,1726" stroke="#222" stroke-width="1.1" fill="none"/>
<path d="M831.5,1682.5 L834,1684 M839,1687 L845,1691.5 M851.8,1696.4 L857.6,1701.2" stroke="#222" stroke-width="1.1" fill="none"/>
<text x="744.38" y="1863.6" font-family="Liberation Serif" font-size="19.24" fill="#2a2a2a" textLength="35.61" lengthAdjust="spacingAndGlyphs" >Wall</text>
<line x1="1025.6" y1="1621.1" x2="932.7" y2="1897.7" stroke="#333" stroke-width="1.2" />
<g stroke="#222" stroke-width="1.2" fill="none" stroke-linecap="round">
<polyline points="1078,1664.1 1123.1,1685.4 1123.1,1908.8 1053.5,1881.7"/>
<line x1="1064.5" y1="1716.3" x2="1292.1" y2="1594.5"/>
<line x1="1074.2" y1="1935.8" x2="1317.3" y2="1801.4"/>
<line x1="1269.5" y1="1602.8" x2="1269.5" y2="1827.1"/>
</g>
<path d="M-35.6,110.6 V0 A35.6,35.6 0 0 1 35.6,0 V110.6 Z" transform="translate(1239.7,1692.5) matrix(1,-0.566,0,1,0,0)" stroke="#111" stroke-width="1.3" fill="#fff"/>
<path d="M-35.6,5 V0 A35.6,35.6 0 0 1 -5,-35.2" transform="translate(1239.7,1692.5) matrix(1,-0.566,0,1,0,0)" stroke="#111" stroke-width="2.2" fill="none"/>
<circle cx="1242.4" cy="1784.6" r="1.8" fill="#000"/>
<circle cx="1174.3" cy="1699.3" r="2.7" stroke="#111" stroke-width="1.1" fill="#fff"/>
<circle cx="1228.9" cy="1669.3" r="2.7" stroke="#111" stroke-width="1.1" fill="#fff"/>
<path d="M1177,1701.5 L1184,1706 M1189,1709.5 L1202.8,1719.2" stroke="#222" stroke-width="1.1" fill="none"/>
<path d="M1232,1672 L1238,1677 M1245,1681.5 L1251,1686 M1254,1688.5 L1257.9,1691.8" stroke="#222" stroke-width="1.1" fill="none"/>
<text x="1144.78" y="1854.2" font-family="Liberation Serif" font-size="18.63" fill="#2a2a2a" textLength="36.11" lengthAdjust="spacingAndGlyphs" >Wall</text>
<g stroke="#1a1a1a" stroke-width="1" fill="#fff" stroke-linejoin="round">
<path d="M37.9,151.5 L69.3,154.8 L68.4,158.9 L37.9,155.3 Z"/>
<path d="M32.5,153.2 L36,151 L38.5,153.3 L36,155.8 Z" fill="#333"/>
<path d="M70,150.5 Q76,148.5 82,150 L84,151.5 L84.6,164.2 Q80,166.5 74,165.5 Q69,163 68.5,158 Q68,153 70,150.5 Z"/>
<path d="M83.7,151.7 L141.1,156.6 Q148.5,158 147.9,165 Q147,172.5 140.2,173.2 L84.6,164.2 Z"/>
</g>
<path d="M71,152 Q74,154 71.5,157 Q75,159 72,162" stroke="#1a1a1a" stroke-width="0.8" fill="none"/>
<path d="M84,154.5 L141,159.5 M84.2,157.5 L146,163.5 M84.3,160 L146,166.5 M84.5,162 L143,170 M85,163.8 L139,172" stroke="#1a1a1a" stroke-width="1.1" fill="none"/>
<rect x="83" y="151.5" width="2.2" height="13" fill="#1a1a1a" transform="rotate(5 84 158)"/>
<circle cx="107.9" cy="190.7" r="10" stroke="#1a1a1a" stroke-width="1.1" fill="none"/>
<path d="M105.8,184.3 h4.2 v4.2 h4.2 v4.2 h-4.2 v4.2 h-4.2 v-4.2 h-4.2 v-4.2 h4.2 z" stroke="#1a1a1a" stroke-width="0.9" fill="none"/>
<path d="M103,186 l2,2 M112.8,186 l-2,2 M103,195.4 l2,-2 M112.8,195.4 l-2,-2" stroke="#1a1a1a" stroke-width="0.8"/>
<g stroke="#1a1a1a" stroke-width="1" fill="#fff" stroke-linejoin="round">
<path d="M383.7,174.2 C392,174 398,176 402,181 C406,186 410,190 417.7,191.9 L416,193.5 C409,193 403,190 399,185 C395,180 390,178.5 383.5,178.5 Z"/>
<polygon points="296.1,165.8 304.5,162.5 306.3,172.3 306.3,185.8 296.1,181.6"/>
<polygon points="304.5,161.6 339.9,141.1 383.7,166.2 340.3,190.9 306.3,172"/>
<polygon points="306.3,172 340.3,190.9 339.9,206.8 306.3,185.8"/>
<polygon points="340.3,190.9 383.7,166.2 383.2,181.6 339.9,206.8"/>
</g>
<polyline points="307.5,161 340,143.5 380,166.5 340.5,188.5 309,171" stroke="#1a1a1a" stroke-width="0.9" fill="none"/>
<polygon points="322.2,176 357.1,156.4 377.2,166.7 340.5,187.2" fill="#555" stroke="#222" stroke-width="0.8"/>
<path d="M327,178 L360,159.5 M331,180.5 L364,162 M335,183 L368,164.5 M339,185 L372,166.5" stroke="#bbb" stroke-width="0.6"/>
<text x="0" y="0" font-family="Liberation Sans" font-weight="bold" font-size="11" fill="#111" stroke="#111" stroke-width="0.6" transform="matrix(0.866,-0.5,0.866,0.5,328.3,165)">5M</text>
<g stroke="#1a1a1a" stroke-width="1.1" fill="#fff" stroke-linejoin="round">
<path d="M551.4,177.5 L579.5,145.4 Q582.5,144.5 586,146 Q589.5,148.5 590.1,152.9 L561.1,185.3 Z"/>
<path d="M546.4,193.5 L551.4,177.5 L554.5,179 L558.5,181.5 L561.1,185.3 Z"/>
</g>
<path d="M554.5,179 L586,146.5 M558.5,181.5 L589.5,150" stroke="#1a1a1a" stroke-width="0.9" fill="none"/>
<path d="M546.4,193.5 L547.5,189.5 L550,191 Z" fill="#1a1a1a"/>
<g stroke="#1a1a1a" stroke-width="1.4" fill="#fff" stroke-linejoin="round">
<path d="M776.4,173.7 Q779,180 779.5,188.2 M788.2,179.2 Q790,184 791.3,188.9 M806.1,186.1 L806,189" fill="none"/>
<path d="M764,144 L817.9,151.6 Q829,158 828.5,170 Q827,183 816,186 L804,184.7 L762.6,164.7 Z"/>
<path d="M745.4,148.5 Q750,143.5 757,143 L764,144 L765,156 L762.6,164.7 Q755,163 750,158 Q746,154 745.4,148.5 Z"/>
</g>
<path d="M741.2,145.7 L747,148.5" stroke="#1a1a1a" stroke-width="2"/>
<path d="M750,146 Q748,152 752,159 M754,144.5 Q752,152 756,161 M758,144 Q757,152 760,162.5 M761.5,144 Q760.5,153 763,163.5" stroke="#1a1a1a" stroke-width="1.2" fill="none"/>
<path d="M764.5,149.5 L788,155 L786,163.5 L778,164 L776.5,168 L765.5,164" stroke="#1a1a1a" stroke-width="1.4" fill="none"/>
<path d="M805,152.5 Q796,160 797,173 Q799,183 806,186" stroke="#1a1a1a" stroke-width="1.4" fill="none"/>
<ellipse cx="816.5" cy="169.5" rx="12.2" ry="16.4" stroke="#1a1a1a" stroke-width="1.4" fill="#fff"/>
<ellipse cx="817.5" cy="171.5" rx="9.8" ry="13" stroke="#1a1a1a" stroke-width="1.2" fill="none"/>
<path d="M808,165 Q818,159 827,162 L827,167.5 Q816,166 808,170.5 Z" fill="#222"/>
<path d="M895.8,173.7 L948.5,156.5 L955.7,158.2 L954.3,163.1 L899.2,180 Z" stroke="#1a1a1a" stroke-width="1.3" fill="#fff" stroke-linejoin="round"/>
<path d="M912.0,168.2 L916.5,174.8 M917.2,166.6 L921.7,173.2 M922.4,165.0 L926.9,171.6 M927.6,163.4 L932.1,170.0 M932.8,161.8 L937.3,168.4 M938.0,160.2 L942.5,166.8 M943.2,158.6 L947.7,165.2 M948.4,157.0 L952.9,163.6" stroke="#1a1a1a" stroke-width="1.3"/>
<g stroke="#1a1a1a" stroke-width="1" fill="#fff" stroke-linejoin="round">
<polygon points="1116.6,192.9 1118.6,174.9 1261.6,123.1 1266.4,126.6 1265,144.5 1122.1,196.3"/>
</g>
<path d="M1118.6,174.9 L1123.5,177.7 L1266.4,126.6 M1123.5,177.7 L1122.1,196.3" stroke="#1a1a1a" stroke-width="1" fill="none"/>
<path d="M1177,154.8 L1182,160.5 L1210,150.5 L1213,145 L1207,143.5 Z" stroke="#1a1a1a" stroke-width="0.9" fill="#fff"/>
<path d="M1187,152 L1196,149 L1197,151 L1188,154 Z" stroke="#1a1a1a" stroke-width="0.7" fill="none"/>
<ellipse cx="1136.6" cy="182.5" rx="4.8" ry="5.6" stroke="#1a1a1a" stroke-width="1" fill="#fff"/>
<path d="M1137.1,178.5 L1135.6,186.5" stroke="#1a1a1a" stroke-width="2"/>
<ellipse cx="1254.7" cy="139" rx="4.8" ry="5.6" stroke="#1a1a1a" stroke-width="1" fill="#fff"/>
<path d="M1255.2,135 L1253.7,143" stroke="#1a1a1a" stroke-width="2"/>
<path d="M475.8,280.3 L505.5,294.5 L514.9,299.6 L513,303.5 L503.5,298 L477,283.5 Z" stroke="#1a1a1a" stroke-width="1" fill="#fff"/>
<path d="M477,281.5 L505,296.5" stroke="#1a1a1a" stroke-width="3.2"/>
<path d="M482,285 l1.5,-2 M487,287.5 l1.5,-2 M492,290.3 l1.5,-2 M497,293 l1.5,-2" stroke="#ddd" stroke-width="0.8"/>
<ellipse cx="519.2" cy="306" rx="5.6" ry="6.8" transform="rotate(30 519.2 306)" stroke="#1a1a1a" stroke-width="1.3" fill="#fff"/>
<path d="M515.5,305.5 L523.5,306 M520,302 L518.5,309.5" stroke="#1a1a1a" stroke-width="1.3"/>
<polygon points="683.7,288.1 726.8,313.3 731.2,305.7 687.3,281.9" stroke="#1a1a1a" stroke-width="1.1" fill="#fff"/>
<polygon points="683.7,288.1 708.8,302.7 712.7,295.7 687.3,281.9" fill="#333"/>
<path d="M687.3,289.9 L692.4,285.0 M692.1,292.6 L697.2,287.7 M696.9,295.3 L702.0,290.4 M701.7,298.0 L706.7,293.1 M706.5,300.7 L711.5,295.8" stroke="#eee" stroke-width="1.3"/>
<path d="M707.7,301.5 L712.8,307.8 M709.0,294.2 L712.0,290.8" stroke="#1a1a1a" stroke-width="1.1"/>
<ellipse cx="729" cy="309.5" rx="3.2" ry="5.3" transform="rotate(29 729 309.5)" stroke="#1a1a1a" stroke-width="1.1" fill="#fff"/>
<ellipse cx="729.3" cy="309.7" rx="1.5" ry="2.6" transform="rotate(29 729 309.5)" stroke="#1a1a1a" stroke-width="0.8" fill="none"/>
<circle cx="642.8" cy="670.2" r="1.4" fill="#111"/>
<circle cx="737.2" cy="670.2" r="1.4" fill="#111"/>
<circle cx="642.8" cy="717.8" r="1.4" fill="#111"/>
<circle cx="737.2" cy="717.8" r="1.4" fill="#111"/>
<circle cx="659" cy="1068" r="1.4" fill="#111"/>
<circle cx="733.6" cy="1068" r="1.4" fill="#111"/>
<circle cx="659" cy="1106" r="1.4" fill="#111"/>
<circle cx="733.6" cy="1106" r="1.4" fill="#111"/>
</svg></body></html>
